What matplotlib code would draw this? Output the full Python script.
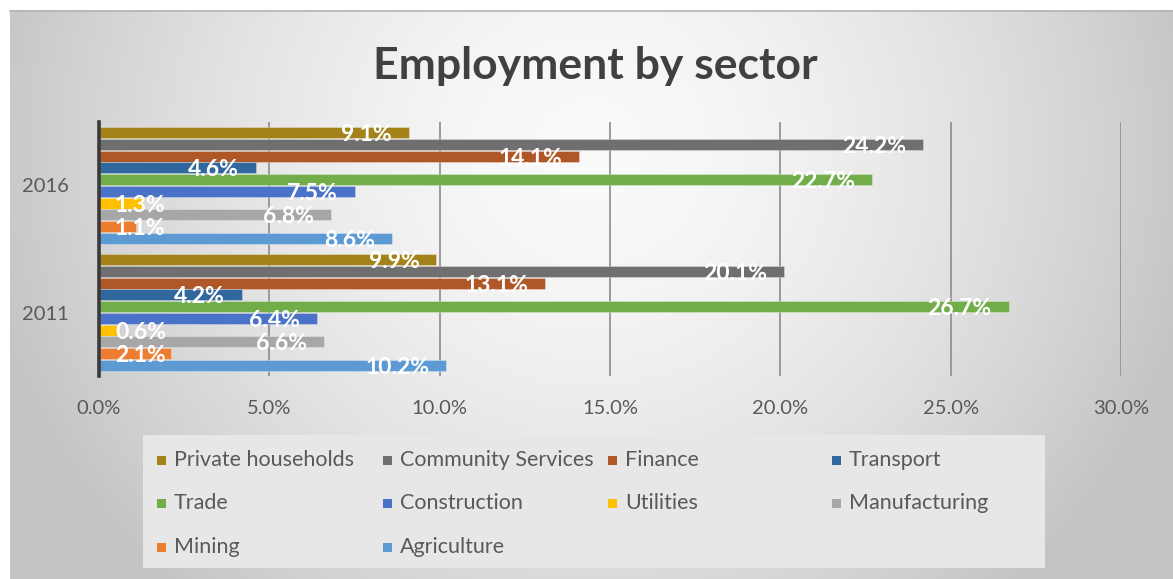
import numpy as np
import matplotlib
matplotlib.use("Agg")
import matplotlib.pyplot as plt
from matplotlib.patches import Rectangle

plt.rcParams["font.family"] = ["Lato", "DejaVu Sans"]

W, H, DPI = 1173, 579, 100

# ---- data -------------------------------------------------------------
sectors = ["Private households", "Community Services", "Finance", "Transport",
           "Trade", "Construction", "Utilities", "Manufacturing", "Mining",
           "Agriculture"]
years = ["2011", "2016"]
share_2011 = [9.9, 20.1, 13.1, 4.2, 26.7, 6.4, 0.6, 6.6, 2.1, 10.2]
share_2016 = [9.1, 24.2, 14.1, 4.6, 22.7, 7.5, 1.3, 6.8, 1.1, 8.6]
x_ticks = [0, 5, 10, 15, 20, 25, 30]

colors = ["#A3821A", "#6F6F6F", "#AF5727", "#30679D", "#71AE4A",
          "#4A72C6", "#FFC000", "#A7A7A7", "#ED7D31", "#5D9AD4"]

TEXT = "#595959"

fig = plt.figure(figsize=(W / DPI, H / DPI), dpi=DPI)
fig.patch.set_facecolor("white")

# ---- radial grey background of the chart area --------------------------
bg = fig.add_axes([10 / W, 0, 1 - 10 / W, 1 - 10 / H], zorder=0)
gx, gy = np.meshgrid(np.arange(10, W), np.arange(10, H))
r = np.sqrt(((gx - 590) / 620.0) ** 2 + ((gy - 150) / 600.0) ** 2)
shade = 196 + 54 * (1 - np.clip(r, 0, 1) ** 1.6)
img = np.dstack([shade, shade, shade]) / 255.0
bg.imshow(img, aspect="auto", extent=[0, 1, 0, 1], interpolation="bilinear")
bg.set_axis_off()
fig.add_artist(plt.Line2D([10 / W, 1], [1 - 10.5 / H, 1 - 10.5 / H],
                          color="#b5b5b5", lw=1.2, zorder=1))

# ---- bar chart --------------------------------------------------------
ax = fig.add_axes([99 / W, 1 - 376 / H, 1022 / W, 254 / H], zorder=2)
ax.set_facecolor("none")

slot = 0.0921
bar_h = 0.087
series = {"2011": share_2011, "2016": share_2016}
for ci, year in enumerate(years):
    vals = series[year]
    for i, (name, v) in enumerate(zip(sectors, vals)):
        y = ci + (4.5 - i) * slot
        ax.barh(y, v, height=bar_h, color=colors[i],
                edgecolor=(1, 1, 1, 0.35), linewidth=0.6, zorder=3)
        label = f"{v:.1f}%"
        if v < 3:
            ax.annotate(label, xy=(0, y), xytext=(16, -2),
                        textcoords="offset pixels", ha="left", va="center",
                        color="white", fontsize=16.5, fontweight="bold",
                        zorder=4)
        else:
            ax.annotate(label, xy=(v, y), xytext=(-17, -2),
                        textcoords="offset pixels", ha="right", va="center",
                        color="white", fontsize=16.5, fontweight="bold",
                        zorder=4)

ax.set_xlim(0, 30)
ax.set_ylim(-0.5, 1.5)
ax.set_xticks(x_ticks)
ax.set_xticklabels([f"{t:.1f}%" for t in x_ticks])
ax.set_yticks(range(len(years)))
ax.set_yticklabels(years)
ax.tick_params(axis="x", length=0, pad=17, labelsize=14.5, labelcolor=TEXT)
ax.tick_params(axis="y", length=0, pad=22, labelsize=14.5, labelcolor=TEXT)
for t in x_ticks[1:]:
    ax.axvline(t, color="#939393", lw=1.3, zorder=1)
for s in ["top", "right", "bottom"]:
    ax.spines[s].set_visible(False)
ax.spines["left"].set_color("#3a3a3a")
ax.spines["left"].set_linewidth(2.6)
ax.spines["left"].set_zorder(5)

# ---- title -------------------------------------------------------------
fig.text(595 / W, 1 - 66 / H, "Employment by sector", ha="center",
         va="center", fontsize=32, fontweight="bold", color="#404040",
         zorder=3)

# ---- legend ------------------------------------------------------------
fig.add_artist(Rectangle((143 / W, 1 - 568 / H), 902 / W, 133 / H,
                         transform=fig.transFigure, facecolor="#e7e7e7",
                         edgecolor="none", zorder=2))
col_x = [161, 387, 612, 836]
row_y = [460, 503, 547]
for k, name in enumerate(sectors):
    cx = col_x[k % 4]
    cy = row_y[k // 4]
    fig.add_artist(Rectangle(((cx - 4.5) / W, 1 - (cy + 4.5) / H), 9 / W,
                             9 / H, transform=fig.transFigure,
                             facecolor=colors[k], edgecolor="none", zorder=3))
    fig.text((cx + 13) / W, 1 - cy / H, name, ha="left", va="center",
             fontsize=15.5, color=TEXT, zorder=3)

fig.savefig("out.png", dpi=DPI)
